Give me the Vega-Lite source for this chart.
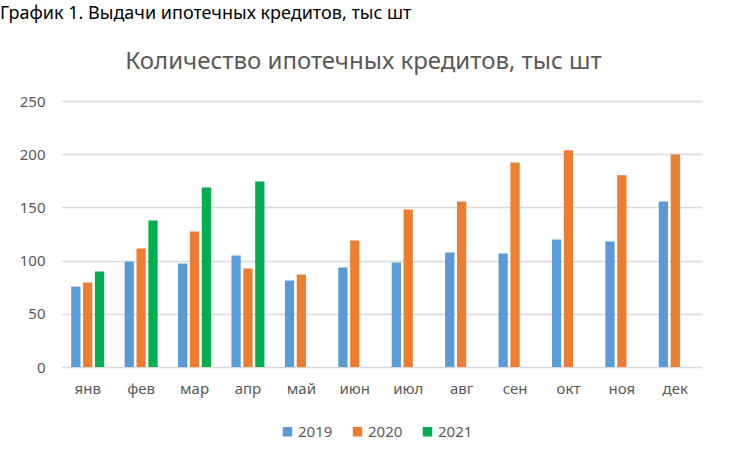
{
  "$schema": "https://vega.github.io/schema/vega-lite/v6.json",
  "autosize": {"type": "none"},
  "width": 641,
  "height": 266,
  "padding": {"left": 61, "top": 101, "right": 29, "bottom": 96},
  "background": "white",
  "title": {
    "text": "График 1. Выдачи ипотечных кредитов, тыс шт",
    "anchor": "start",
    "frame": "group",
    "dx": -61,
    "offset": 12,
    "baseline": "alphabetic",
    "font": "Noto Sans",
    "fontSize": 18,
    "fontWeight": "normal",
    "color": "#000000"
  },
  "data": {
    "values": [
      {"month": "янв", "year": "2019", "value": 75.6},
      {"month": "янв", "year": "2020", "value": 79.4},
      {"month": "янв", "year": "2021", "value": 89.7},
      {"month": "фев", "year": "2019", "value": 99.1},
      {"month": "фев", "year": "2020", "value": 111.4},
      {"month": "фев", "year": "2021", "value": 137.7},
      {"month": "мар", "year": "2019", "value": 97.2},
      {"month": "мар", "year": "2020", "value": 127.4},
      {"month": "мар", "year": "2021", "value": 168.8},
      {"month": "апр", "year": "2019", "value": 104.8},
      {"month": "апр", "year": "2020", "value": 92.5},
      {"month": "апр", "year": "2021", "value": 174.4},
      {"month": "май", "year": "2019", "value": 81.2},
      {"month": "май", "year": "2020", "value": 86.9},
      {"month": "июн", "year": "2019", "value": 93.5},
      {"month": "июн", "year": "2020", "value": 118.9},
      {"month": "июл", "year": "2019", "value": 98.2},
      {"month": "июл", "year": "2020", "value": 148.1},
      {"month": "авг", "year": "2019", "value": 107.6},
      {"month": "авг", "year": "2020", "value": 155.6},
      {"month": "сен", "year": "2019", "value": 106.6},
      {"month": "сен", "year": "2020", "value": 192.3},
      {"month": "окт", "year": "2019", "value": 119.8},
      {"month": "окт", "year": "2020", "value": 203.6},
      {"month": "ноя", "year": "2019", "value": 117.9},
      {"month": "ноя", "year": "2020", "value": 180.1},
      {"month": "дек", "year": "2019", "value": 155.6},
      {"month": "дек", "year": "2020", "value": 199.8}
    ]
  },
  "mark": {"type": "bar"},
  "encoding": {
    "x": {
      "field": "month",
      "type": "nominal",
      "sort": ["янв", "фев", "мар", "апр", "май", "июн", "июл", "авг", "сен", "окт", "ноя", "дек"],
      "scale": {"paddingInner": 0.382, "paddingOuter": 0.191},
      "axis": {
        "title": null,
        "labelAngle": 0,
        "labelPadding": 14,
        "labelFont": "Noto Sans",
        "labelFontSize": 15,
        "labelColor": "#595959",
        "domain": false,
        "ticks": false
      }
    },
    "xOffset": {
      "field": "year",
      "type": "nominal",
      "scale": {"paddingInner": 0.22, "paddingOuter": 0}
    },
    "y": {
      "field": "value",
      "type": "quantitative",
      "scale": {"domain": [0, 250], "nice": false},
      "axis": {
        "values": [0, 50, 100, 150, 200, 250],
        "title": "Количество ипотечных кредитов, тыс шт",
        "titleAngle": 0,
        "titleAlign": "center",
        "titleBaseline": "alphabetic",
        "titleX": 302,
        "titleY": -33,
        "titleFont": "Noto Sans",
        "titleFontSize": 24,
        "titleFontWeight": "normal",
        "titleColor": "#595959",
        "labelFont": "Noto Sans",
        "labelFontSize": 15,
        "labelColor": "#595959",
        "labelPadding": 16,
        "domain": false,
        "ticks": false,
        "grid": true,
        "gridColor": "#D9D9D9",
        "gridWidth": 1.3
      }
    },
    "color": {
      "field": "year",
      "type": "nominal",
      "scale": {"domain": ["2019", "2020", "2021"], "range": ["#5B9BD5", "#ED7D31", "#00B050"]},
      "legend": {
        "title": null,
        "orient": "none",
        "direction": "horizontal",
        "legendX": 219,
        "legendY": 323,
        "symbolType": "square",
        "symbolSize": 90,
        "symbolStrokeWidth": 0,
        "symbolOpacity": 1,
        "labelFont": "Noto Sans",
        "labelFontSize": 15,
        "labelColor": "#595959",
        "labelOffset": 3,
        "columnPadding": 17
      }
    }
  },
  "config": {
    "view": {"stroke": null}
  }
}
